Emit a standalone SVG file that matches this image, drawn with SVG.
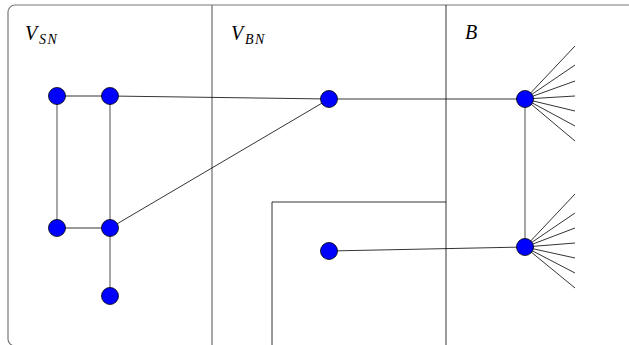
<svg xmlns="http://www.w3.org/2000/svg" width="629" height="345" viewBox="0 0 629 345">
<style>
.frame{fill:none;stroke:#777;stroke-width:1.2}
.gray{stroke:#777;stroke-width:1.3;fill:none}
.blk{stroke:#000;stroke-width:0.8;fill:none}
.node{fill:#0000ff;stroke:#000;stroke-width:0.8}
.lbl{font-family:"Liberation Serif",serif;font-style:italic;font-size:20px;fill:#000}
.sub{font-family:"Liberation Serif",serif;font-style:italic;font-size:14px;letter-spacing:1.5px;fill:#000}
</style>
<rect class="frame" x="8" y="5" width="640" height="341" rx="7"/>
<g id="dividers">
<line class="gray" x1="212" y1="5" x2="212" y2="345"/>
<line class="blk" x1="446" y1="5" x2="446" y2="345"/>
<polyline class="blk" points="272,345 272,202 446,202"/>
</g>
<g id="labels">
<text class="lbl" x="25" y="40">V</text>
<text class="sub" x="39" y="44">SN</text>
<text class="lbl" x="231" y="40">V</text>
<text class="sub" x="245" y="44">BN</text>
<text class="lbl" x="465" y="39">B</text>
</g>
<g id="connectors">
<line class="gray" x1="57" y1="96" x2="110" y2="96"/>
<line class="gray" x1="57" y1="96" x2="57" y2="228"/>
<line class="gray" x1="110" y1="96" x2="110" y2="296"/>
<line class="gray" x1="57" y1="228" x2="110" y2="228"/>
<line class="blk" x1="110" y1="96" x2="329" y2="99"/>
<line class="blk" x1="110" y1="228" x2="329" y2="99"/>
<line class="blk" x1="329" y1="99" x2="525" y2="99"/>
<line class="gray" x1="525" y1="99" x2="525" y2="247"/>
<line class="blk" x1="329" y1="251" x2="525" y2="247"/>
<g id="fan-top">
<line class="blk" x1="525" y1="99" x2="575" y2="46"/>
<line class="blk" x1="525" y1="99" x2="575" y2="65"/>
<line class="blk" x1="525" y1="99" x2="575" y2="81"/>
<line class="blk" x1="525" y1="99" x2="575" y2="96"/>
<line class="blk" x1="525" y1="99" x2="575" y2="111"/>
<line class="blk" x1="525" y1="99" x2="575" y2="126"/>
<line class="blk" x1="525" y1="99" x2="575" y2="141"/>
</g>
<g id="fan-bottom">
<line class="blk" x1="525" y1="247" x2="575" y2="194"/>
<line class="blk" x1="525" y1="247" x2="575" y2="213"/>
<line class="blk" x1="525" y1="247" x2="575" y2="228"/>
<line class="blk" x1="525" y1="247" x2="575" y2="243"/>
<line class="blk" x1="525" y1="247" x2="575" y2="258"/>
<line class="blk" x1="525" y1="247" x2="575" y2="273"/>
<line class="blk" x1="525" y1="247" x2="575" y2="288"/>
</g>
</g>
<g id="n1"><circle class="node" cx="57" cy="96" r="8.5"/></g>
<g id="n2"><circle class="node" cx="110" cy="96" r="8.5"/></g>
<g id="n3"><circle class="node" cx="57" cy="228" r="8.5"/></g>
<g id="n4"><circle class="node" cx="110" cy="228" r="8.5"/></g>
<g id="n5"><circle class="node" cx="110" cy="296" r="8.5"/></g>
<g id="n6"><circle class="node" cx="329" cy="99" r="8.5"/></g>
<g id="n7"><circle class="node" cx="329" cy="251" r="8.5"/></g>
<g id="n8"><circle class="node" cx="525" cy="99" r="8.5"/></g>
<g id="n9"><circle class="node" cx="525" cy="247" r="8.5"/></g>
</svg>
